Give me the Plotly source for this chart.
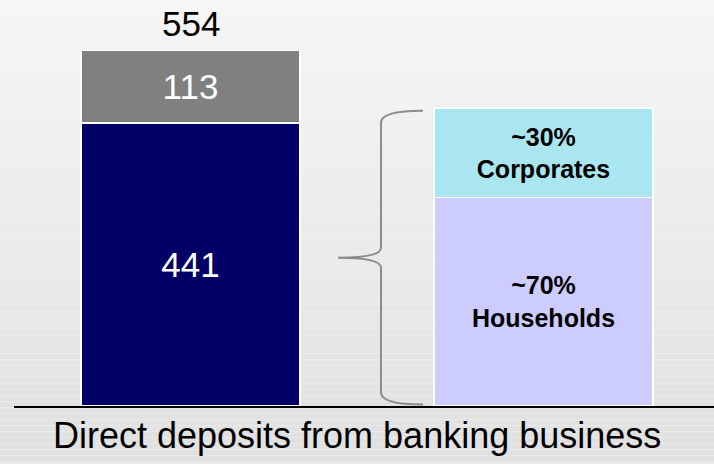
import plotly.graph_objects as go

# ---- data ----
left_category = ["Direct deposits"]
right_category = ["Split"]
navy_values = [441]
gray_values = [113]
total_values = [554]
households_pct = [70]
corporates_pct = [30]
households_label = ["~70%<br>Households"]
corporates_label = ["~30%<br>Corporates"]
axis_title = "Direct deposits from banking business"

W, H = 714, 464
ML, MR, MT, MB = 14, 0, 0, 57.5
PH = H - MT - MB
FONT = "Liberation Sans, Arial, sans-serif"


def px(x):
    return (x - ML) / (W - ML - MR)


def py(y):
    return (MT + PH - y) / PH


fig = go.Figure()
fig.add_trace(go.Bar(x=left_category, y=navy_values, marker=dict(color="#000066", line=dict(color="white", width=1.5)),
                     text=[str(v) for v in navy_values], textposition="inside", insidetextanchor="middle",
                     textfont=dict(color="white", size=35, family=FONT), width=0.62, yaxis="y"))
fig.add_trace(go.Bar(x=left_category, y=gray_values, marker=dict(color="#808080", line=dict(color="white", width=1.5)),
                     text=[str(v) for v in gray_values], textposition="inside", insidetextanchor="middle",
                     textfont=dict(color="white", size=35, family=FONT), width=0.62, yaxis="y"))
fig.add_trace(go.Bar(x=right_category, y=households_pct, marker=dict(color="#CCCCFF", line=dict(color="white", width=1.5)),
                     text=["<b>" + t + "</b>" for t in households_label], textposition="inside", insidetextanchor="middle",
                     textfont=dict(color="black", size=25, family=FONT), width=0.62, yaxis="y2"))
fig.add_trace(go.Bar(x=right_category, y=corporates_pct, marker=dict(color="#AAE6EF", line=dict(color="white", width=1.5)),
                     text=["<b>" + t + "</b>" for t in corporates_label], textposition="inside", insidetextanchor="middle",
                     textfont=dict(color="black", size=25, family=FONT), width=0.62, yaxis="y2"))

# total label above the left bar
fig.add_annotation(x=left_category[0], y=total_values[0], xref="x", yref="y", text=str(total_values[0]),
                   showarrow=False, yanchor="bottom", yshift=6, font=dict(size=35, color="black", family=FONT))

# axis title
fig.add_annotation(x=px(357), y=py(436), xref="paper", yref="paper", text=axis_title, showarrow=False,
                   xanchor="center", yanchor="middle", font=dict(size=36, color="black", family=FONT))

# gradient background
shapes = []
band = 6
n = int(H / band) + 1
for i in range(n):
    y0p = i * band
    y1p = min(H, (i + 1) * band)
    t = (y0p + band / 2) / H
    c = int(round(246 - t * (246 - 224)))
    shapes.append(dict(type="rect", xref="paper", yref="paper", x0=px(0), x1=px(W), y0=py(y1p), y1=py(y0p),
                       fillcolor=f"rgb({c},{c},{c})", line=dict(width=0), layer="below"))

# curly brace
pts = [(423, 111), (381, 111), (381, 123), (381, 248), (381, 258), (338, 258), (381, 258), (381, 268),
       (381, 393), (381, 405), (423, 405)]
P = [(px(a), py(b)) for a, b in pts]
path = (f"M {P[0][0]} {P[0][1]} Q {P[1][0]} {P[1][1]} {P[2][0]} {P[2][1]} L {P[3][0]} {P[3][1]} "
        f"Q {P[4][0]} {P[4][1]} {P[5][0]} {P[5][1]} Q {P[6][0]} {P[6][1]} {P[7][0]} {P[7][1]} "
        f"L {P[8][0]} {P[8][1]} Q {P[9][0]} {P[9][1]} {P[10][0]} {P[10][1]}")
shapes.append(dict(type="path", xref="paper", yref="paper", path=path, line=dict(color="#8C8C8C", width=2)))

fig.update_layout(
    width=W, height=H, margin=dict(l=ML, r=MR, t=MT, b=MB),
    barmode="stack", showlegend=False,
    paper_bgcolor="rgba(0,0,0,0)", plot_bgcolor="rgba(0,0,0,0)",
    shapes=shapes, uniformtext=dict(mode=False),
    xaxis=dict(type="category", range=[-0.5, 1.483], showline=True, linecolor="black", linewidth=2,
               showticklabels=False, ticks="", showgrid=False, zeroline=False, fixedrange=True),
    yaxis=dict(range=[0, 633.0], visible=False, showgrid=False, zeroline=False),
    yaxis2=dict(range=[0, 136.3], overlaying="y", visible=False, showgrid=False, zeroline=False),
    font=dict(family=FONT),
)

fig.write_html("out.html", config={"displayModeBar": False},
               post_script="document.body.style.margin='0px';document.body.style.padding='0px';")
